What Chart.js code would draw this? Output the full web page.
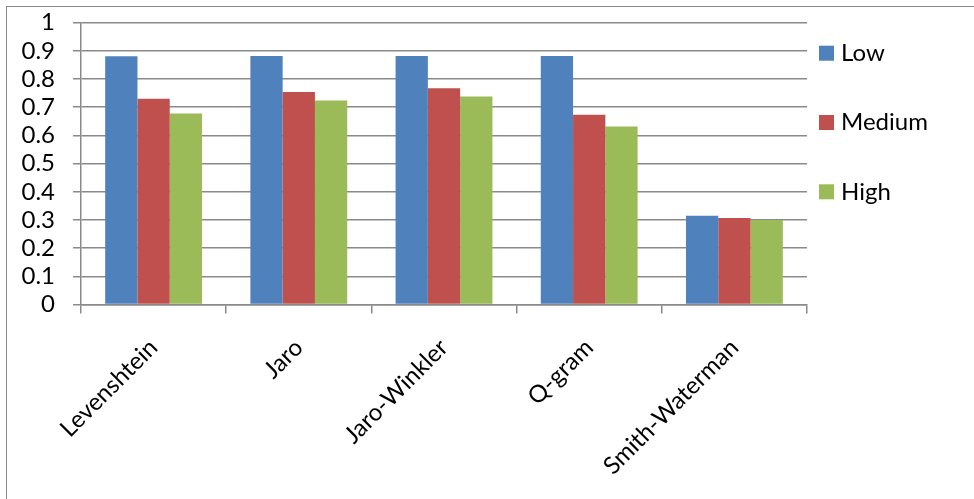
<!DOCTYPE html>
<html>
<head>
<meta charset="utf-8">
<script src="https://cdn.jsdelivr.net/npm/chart.js@4"></script>
<style>
  html, body { margin: 0; padding: 0; background: #fff; }
  body { width: 974px; height: 499px; position: relative; overflow: hidden; }
  #frame { position: absolute; left: 6px; top: 6px; width: 990px; height: 520px; border: 1.5px solid #8a8a8a; box-sizing: border-box; }
  #wrap { position: absolute; left: 0; top: 0; width: 974px; height: 499px; }
</style>
</head>
<body>
<div id="frame"></div>
<div id="wrap"><canvas id="c"></canvas></div>
<script>
const categories = ["Levenshtein", "Jaro", "Jaro-Winkler", "Q-gram", "Smith-Waterman"];
const seriesNames = ["Low", "Medium", "High"];
const lowValues = [0.881, 0.882, 0.882, 0.882, 0.315];
const mediumValues = [0.730, 0.754, 0.767, 0.673, 0.307];
const highValues = [0.678, 0.724, 0.738, 0.632, 0.300];
const seriesColors = ["#4F81BD", "#C0504D", "#9BBB59"];
const yTickLabels = ["0", "0.1", "0.2", "0.3", "0.4", "0.5", "0.6", "0.7", "0.8", "0.9", "1"];

const FONT = "Lato, 'Open Sans', sans-serif";
const GRID = "#8a8a8a";

const legendPlugin = {
  id: "sideLegend",
  afterDraw(chart) {
    const ctx = chart.ctx;
    const area = chart.chartArea;
    ctx.save();
    ctx.font = "24px " + FONT;
    ctx.textBaseline = "middle";
    chart.data.datasets.forEach((ds, i) => {
      const cy = area.top + 30.5 + i * 69.3;
      const bx = area.right + 12;
      ctx.fillStyle = ds.backgroundColor;
      ctx.fillRect(bx, cy - 7.5, 15, 15);
      ctx.fillStyle = "#000";
      ctx.fillText(ds.label, bx + 22, cy);
    });
    ctx.restore();
  }
};

const valueSets = [lowValues, mediumValues, highValues];

new Chart(document.getElementById("c"), {
  type: "bar",
  data: {
    labels: categories,
    datasets: seriesNames.map((name, i) => ({
      label: name,
      data: valueSets[i],
      backgroundColor: seriesColors[i],
      borderWidth: 0,
      categoryPercentage: 0.667,
      barPercentage: 1.0
    }))
  },
  options: {
    responsive: true,
    maintainAspectRatio: false,
    animation: false,
    layout: { padding: { left: 0, top: 22.7, right: 167, bottom: 0 } },
    plugins: {
      legend: { display: false },
      tooltip: { enabled: false }
    },
    scales: {
      x: {
        afterFit(s) { s.height = 194.5; s.paddingLeft = 0; s.paddingRight = 0; },
        grid: {
          display: true,
          offset: true,
          drawOnChartArea: false,
          drawTicks: true,
          tickLength: 9,
          color: GRID,
          lineWidth: 1.5
        },
        border: { display: true, color: GRID, width: 1.5 },
        ticks: {
          minRotation: 45,
          maxRotation: 45,
          autoSkip: false,
          padding: 20,
          color: "#000",
          font: { family: FONT, size: 24 }
        }
      },
      y: {
        min: 0,
        max: 1,
        afterFit(s) { s.width = 81; s.paddingTop = 8; s.paddingBottom = 8; },
        grid: {
          color: GRID,
          lineWidth: 1.5,
          drawTicks: true,
          tickLength: 8,
          tickColor: GRID
        },
        border: { display: true, color: GRID, width: 1.5 },
        ticks: {
          stepSize: 0.1,
          autoSkip: false,
          padding: 18,
          color: "#000",
          font: { family: FONT, size: 24 },
          callback: (v, i) => yTickLabels[i]
        }
      }
    }
  },
  plugins: [legendPlugin]
});
</script>
</body>
</html>
